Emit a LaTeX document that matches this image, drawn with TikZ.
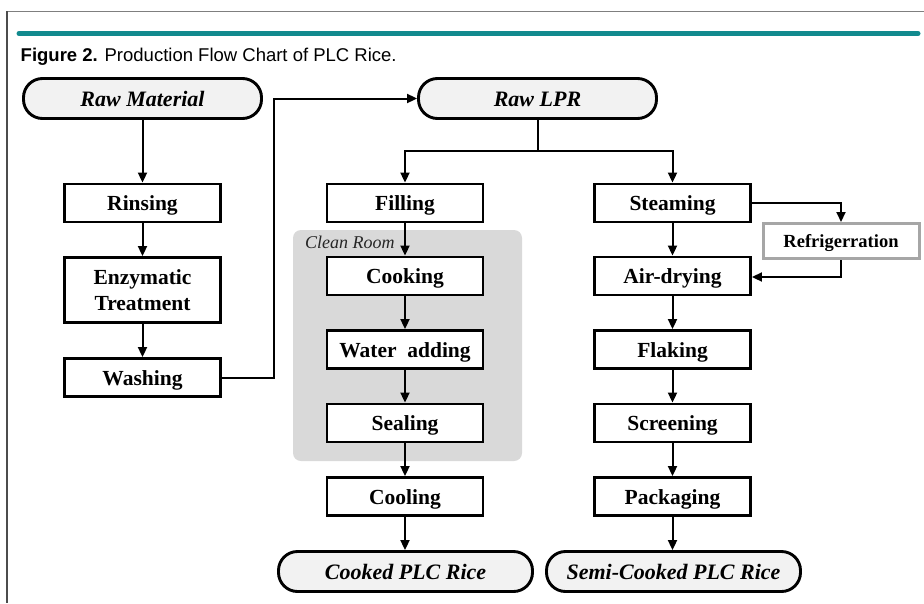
\documentclass[tikz,border=0pt]{standalone}
\usepackage{fontspec}
\setmainfont{Liberation Serif}
\newfontfamily\arialfont{Liberation Sans}
\usetikzlibrary{arrows.meta}
\definecolor{pillgray}{HTML}{F2F2F2}
\definecolor{roomgray}{HTML}{D9D9D9}
\definecolor{tealbar}{HTML}{128A8E}
\definecolor{framegray}{HTML}{7F7F7F}
\definecolor{refgray}{HTML}{A6A6A6}
\tikzset{
  procbox/.style={draw, line width=2.9pt, fill=white, minimum width=156pt, minimum height=38pt,
    inner sep=0pt, align=center, text height=17pt, text depth=2pt,
    font=\bfseries\fontsize{21.5}{26.7}\selectfont},
  pill/.style={draw, line width=2.9pt, fill=pillgray, rounded corners=19pt, minimum width=238pt,
    minimum height=40pt, inner sep=0pt, text height=17pt, text depth=2pt,
    font=\bfseries\itshape\fontsize{22}{24}\selectfont},
  conn/.style={line width=2pt, -{Triangle[length=10pt,width=9pt]}},
  plain/.style={line width=2pt}
}
\begin{document}
\begin{tikzpicture}[x=1pt,y=-1pt]
\useasboundingbox (0,0) rectangle (924,603);
% frame
\draw[framegray, line width=1.3pt] (7,11.5) -- (924,11.5);
\draw[black!70, line width=1.2pt] (7,11) -- (7,603);
\draw[tealbar, line width=5pt, line cap=round] (19,33.5) -- (918,33.5);
\node[anchor=base west, inner sep=0pt, font=\arialfont\fontsize{18.5}{22}\selectfont] (title) at (20.5,61)
  {\textbf{Figure 2.} Production Flow Chart of PLC Rice.};
% clean room
\fill[roomgray, rounded corners=8pt] (293,230) rectangle (522,461);
\node[anchor=base west, inner sep=0pt, font=\itshape\fontsize{18}{20}\selectfont, text=black!85] (cleanroom) at (305,248) {Clean Room};
% pills
\node[pill] (rawmat) at (142.5,98.5) {Raw Material};
\node[pill] (rawlpr) at (537.5,98.5) {Raw LPR};
\node[pill, minimum width=254pt] (cooked) at (405.5,571.5) {Cooked PLC Rice};
\node[pill, minimum width=254pt] (semi) at (673.5,571.5) {Semi-Cooked PLC Rice};
% left column
\node[procbox] (rinsing) at (142.5,203) {Rinsing};
\node[procbox, minimum height=65pt, text height=, text depth=] (enzyme) at (142.5,290) {Enzymatic\\Treatment};
\node[procbox] (washing) at (142.5,377.5) {Washing};
% middle column
\node[procbox] (filling) at (405,203) {Filling};
\node[procbox] (cooking) at (405,276) {Cooking};
\node[procbox] (water) at (405,349.5) {Water\ \ adding};
\node[procbox] (sealing) at (405,423) {Sealing};
\node[procbox] (cooling) at (405,496.5) {Cooling};
% right column
\node[procbox] (steaming) at (672.5,203) {Steaming};
\node[procbox] (airdry) at (672.5,276) {Air-drying};
\node[procbox] (flaking) at (672.5,349.5) {Flaking};
\node[procbox] (screening) at (672.5,423) {Screening};
\node[procbox] (packaging) at (672.5,496.5) {Packaging};
\node[procbox, draw=refgray, line width=3pt, minimum height=35pt, text height=14.5pt, text depth=1.5pt,
  font=\bfseries\fontsize{18.5}{22}\selectfont] (refrig) at (841,241) {Refrigerration};
% connectors
\draw[conn] (rawmat.south) -- (rinsing.north);
\draw[conn] (rinsing.south) -- (enzyme.north);
\draw[conn] (enzyme.south) -- (washing.north);
\coordinate (wturn) at (274,377.5);
\draw[conn] (washing.east) -- (wturn) |- (rawlpr.west);
\coordinate (split) at (537.5,151);
\draw[plain] (rawlpr.south) -- (split);
\draw[conn] (split) -| (filling.north);
\draw[conn] (split) -| (steaming.north);
\draw[conn] (filling.south) -- (cooking.north);
\draw[conn] (cooking.south) -- (water.north);
\draw[conn] (water.south) -- (sealing.north);
\draw[conn] (sealing.south) -- (cooling.north);
\draw[conn] (cooling.south) -- (cooling.south |- cooked.north);
\draw[conn] (steaming.south) -- (airdry.north);
\draw[conn] (airdry.south) -- (flaking.north);
\draw[conn] (flaking.south) -- (screening.north);
\draw[conn] (screening.south) -- (packaging.north);
\draw[conn] (packaging.south) -- (packaging.south |- semi.north);
\draw[conn] (steaming.east) -| (refrig.north);
\coordinate (rback) at (841,277);
\draw[conn] (refrig.south) -- (rback) -- (airdry.east |- rback);
\end{tikzpicture}
\end{document}
